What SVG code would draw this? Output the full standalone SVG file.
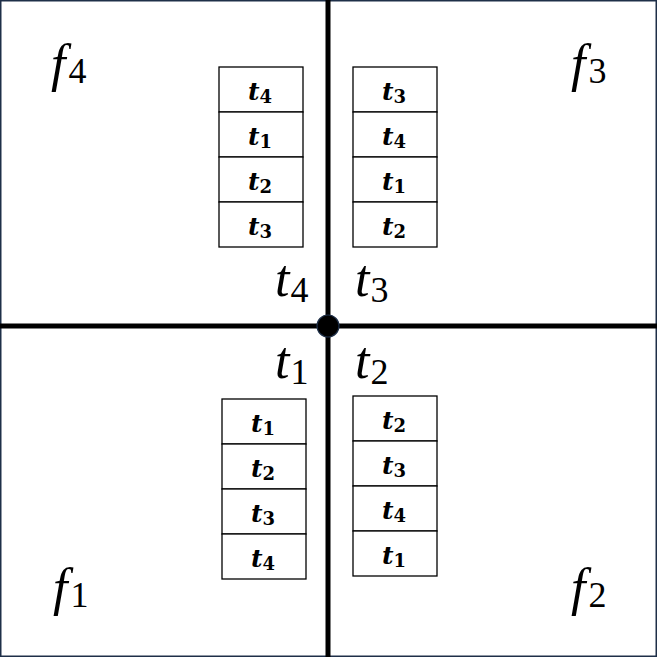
<svg xmlns="http://www.w3.org/2000/svg" width="657" height="657" viewBox="0 0 657 657">
<style>
.cell{fill:#fff;stroke:#000;stroke-width:1.3}
.st{font-family:"DejaVu Serif",serif;font-weight:bold;font-style:italic;font-size:25px;text-anchor:middle}
.st .s{font-style:normal;font-size:18px}
.big{font-family:"Liberation Serif",serif;font-style:italic;font-size:52px}
.big .s{font-style:normal;font-size:36px}
.axis{stroke:#000;stroke-width:5}
</style>
<rect x="0.75" y="0.75" width="655.5" height="655.5" fill="#fff" stroke="#1e2f48" stroke-width="1.5"/>
<g id="connectors">
<line class="axis" x1="328" y1="0" x2="328" y2="657"/>
<line class="axis" x1="0" y1="326" x2="657" y2="326"/>
</g>
<g id="center"><circle cx="328" cy="326" r="11" fill="#000" stroke="#1e2f48" stroke-width="1.2"/></g>
<g id="faces">
<text class="big" x="51" y="81">f<tspan class="s" dx="3" dy="2">4</tspan></text>
<text class="big" x="571" y="81">f<tspan class="s" dx="3" dy="2">3</tspan></text>
<text class="big" x="53" y="605">f<tspan class="s" dx="3" dy="2">1</tspan></text>
<text class="big" x="571" y="605">f<tspan class="s" dx="3" dy="2">2</tspan></text>
</g>
<g id="labels">
<text class="big" x="275" y="296">t<tspan class="s" dx="1" dy="6">4</tspan></text>
<text class="big" x="355" y="296">t<tspan class="s" dx="1" dy="6">3</tspan></text>
<text class="big" x="275" y="378">t<tspan class="s" dx="1" dy="6">1</tspan></text>
<text class="big" x="355" y="378">t<tspan class="s" dx="1" dy="6">2</tspan></text>
</g>
<g id="stack-tl">
<rect class="cell" x="219" y="67" width="84" height="45"/>
<rect class="cell" x="219" y="112" width="84" height="45"/>
<rect class="cell" x="219" y="157" width="84" height="45"/>
<rect class="cell" x="219" y="202" width="84" height="45"/>
<text class="st" x="260" y="100">t<tspan class="s" dy="3">4</tspan></text>
<text class="st" x="260" y="145">t<tspan class="s" dy="3">1</tspan></text>
<text class="st" x="260" y="190">t<tspan class="s" dy="3">2</tspan></text>
<text class="st" x="260" y="235">t<tspan class="s" dy="3">3</tspan></text>
</g>
<g id="stack-tr">
<rect class="cell" x="353" y="67" width="84" height="45"/>
<rect class="cell" x="353" y="112" width="84" height="45"/>
<rect class="cell" x="353" y="157" width="84" height="45"/>
<rect class="cell" x="353" y="202" width="84" height="45"/>
<text class="st" x="394" y="100">t<tspan class="s" dy="3">3</tspan></text>
<text class="st" x="394" y="145">t<tspan class="s" dy="3">4</tspan></text>
<text class="st" x="394" y="190">t<tspan class="s" dy="3">1</tspan></text>
<text class="st" x="394" y="235">t<tspan class="s" dy="3">2</tspan></text>
</g>
<g id="stack-bl">
<rect class="cell" x="222" y="399" width="84" height="45"/>
<rect class="cell" x="222" y="444" width="84" height="45"/>
<rect class="cell" x="222" y="489" width="84" height="45"/>
<rect class="cell" x="222" y="534" width="84" height="45"/>
<text class="st" x="263" y="432">t<tspan class="s" dy="3">1</tspan></text>
<text class="st" x="263" y="477">t<tspan class="s" dy="3">2</tspan></text>
<text class="st" x="263" y="522">t<tspan class="s" dy="3">3</tspan></text>
<text class="st" x="263" y="567">t<tspan class="s" dy="3">4</tspan></text>
</g>
<g id="stack-br">
<rect class="cell" x="353" y="396" width="84" height="45"/>
<rect class="cell" x="353" y="441" width="84" height="45"/>
<rect class="cell" x="353" y="486" width="84" height="45"/>
<rect class="cell" x="353" y="531" width="84" height="45"/>
<text class="st" x="394" y="429">t<tspan class="s" dy="3">2</tspan></text>
<text class="st" x="394" y="474">t<tspan class="s" dy="3">3</tspan></text>
<text class="st" x="394" y="519">t<tspan class="s" dy="3">4</tspan></text>
<text class="st" x="394" y="564">t<tspan class="s" dy="3">1</tspan></text>
</g>
</svg>
